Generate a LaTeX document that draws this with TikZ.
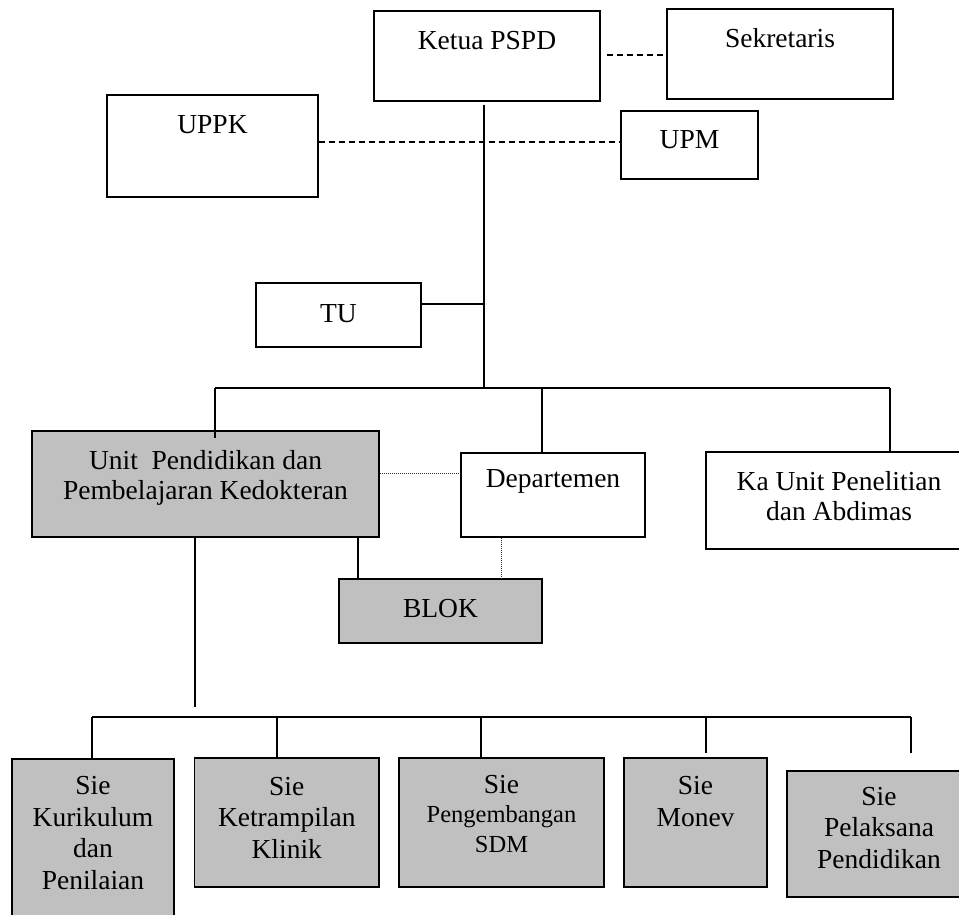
\documentclass[tikz,border=0pt]{standalone}
\usepackage{fontspec}
\setmainfont{Liberation Serif}
\begin{document}
\begin{tikzpicture}[x=1pt,y=-1pt,
  box/.style={draw=black,line width=1.2pt,inner sep=0pt,fill=white},
  gbox/.style={box,fill=boxgray},
  txt/.style={inner sep=0pt,anchor=base,align=center,font=\fontsize{27.5}{31.5}\selectfont},
  conn/.style={line width=1.2pt},
  dashc/.style={line width=1.1pt,dash pattern=on 6pt off 4pt},
  dotc/.style={line width=0.7pt,dash pattern=on 1pt off 1pt,draw=black!80}]
\definecolor{boxgray}{HTML}{C0C0C0}
\useasboundingbox (0,0) rectangle (959,914);
\clip (0,0) rectangle (959,914);
% boxes
\node[box,minimum width=226pt,minimum height=90pt] (ketua) at (487,56) {};
\node[box,minimum width=226pt,minimum height=90pt] (sek) at (780,54) {};
\node[box,minimum width=211pt,minimum height=102pt] (uppk) at (212.5,146) {};
\node[box,minimum width=137pt,minimum height=68pt] (upm) at (689.5,145) {};
\node[box,minimum width=165pt,minimum height=64pt] (tu) at (338.5,315) {};
\node[gbox,minimum width=347pt,minimum height=106pt] (unit) at (205.5,484) {};
\node[box,minimum width=184pt,minimum height=84pt] (dep) at (553,495) {};
\node[box,minimum width=266pt,minimum height=97pt] (ka) at (839,500.5) {};
\node[gbox,minimum width=203pt,minimum height=64pt] (blok) at (440.5,611) {};
\node[gbox,minimum width=162pt,minimum height=170pt] (kur) at (93,844) {};
\node[gbox,minimum width=184.5pt,minimum height=129pt] (ket) at (286.75,822.5) {};
\node[gbox,minimum width=205pt,minimum height=129pt] (peng) at (501.5,822.5) {};
\node[gbox,minimum width=143pt,minimum height=129pt] (monev) at (695.5,822.5) {};
\node[gbox,minimum width=184pt,minimum height=126pt] (pel) at (879,834) {};
% texts (anchor=base is the baseline of the last line)
\node[txt] (ketuaT) at (487,49) {Ketua PSPD};
\node[txt] (sekT) at (780,47) {Sekretaris};
\node[txt] (uppkT) at (212.5,133) {UPPK};
\node[txt] (upmT) at (689.5,148) {UPM};
\node[txt] (tuT) at (338.5,322) {TU};
\node[txt] (unitT) at (205.5,499) {Unit \ Pendidikan dan\\[-2pt]Pembelajaran Kedokteran};
\node[txt] (depT) at (553,487) {Departemen};
\node[txt] (kaT) at (839,520) {Ka Unit Penelitian\\[-2pt]dan Abdimas};
\node[txt] (blokT) at (440.5,617) {BLOK};
\node[txt] (kurT) at (93,889) {Sie\\Kurikulum\\dan\\Penilaian};
\node[txt] (ketT) at (286.75,858) {Sie\\Ketrampilan\\Klinik};
\node[txt] (pengT) at (501.5,852) {Sie\\[-2pt]\fontsize{24.5}{29}\selectfont Pengembangan\\[-2pt]\fontsize{24.5}{29}\selectfont SDM};
\node[txt] (monevT) at (695.5,826) {Sie\\Monev};
\node[txt] (pelT) at (879,868) {Sie\\Pelaksana\\Pendidikan};
% coordinates
\coordinate (busA) at (484,388);
\coordinate (tuJ) at (484,304);
\coordinate (busL) at (215,388);
\coordinate (busD) at (542,388);
\coordinate (busR) at (890,388);
\coordinate (lineD1) at (0,55);
\coordinate (lineD2) at (0,142);
\coordinate (dotY) at (0,473);
\coordinate (blokL) at (358,0);
\coordinate (blokR) at (501,0);
\coordinate (sieTop) at (195,707);
\coordinate (b2a) at (92,717);
\coordinate (b2b) at (277,717);
\coordinate (b2c) at (481,717);
\coordinate (b2d) at (706,717);
\coordinate (b2e) at (911,717);
\coordinate (endD) at (706,753);
\coordinate (endE) at (911,753);
% connectors
\draw[conn] ([yshift=-3pt]ketua.south -| busA) -- (busA);
\draw[dashc] ([xshift=6pt]ketua.east |- lineD1) -- (sek.west |- lineD1);
\draw[dashc] (uppk.east |- lineD2) -- (upm.west |- lineD2);
\draw[conn] (tu.east |- tuJ) -- (tuJ);
\draw[conn] (busL) -- (busR);
\draw[conn] (busL) -- ([yshift=-8pt]unit.north -| busL);
\draw[conn] (busD) -- (dep.north -| busD);
\draw[conn] (busR) -- (ka.north -| busR);
\draw[dotc] (unit.east |- dotY) -- (dep.west |- dotY);
\draw[conn] (unit.south -| blokL) -- (blok.north -| blokL);
\draw[dotc] (dep.south -| blokR) -- (blok.north -| blokR);
\draw[conn] (unit.south -| sieTop) -- (sieTop);
\draw[conn] (b2a) -- (b2e);
\draw[conn] (b2a) -- (kur.north -| b2a);
\draw[conn] (b2b) -- (ket.north -| b2b);
\draw[conn] (b2c) -- (peng.north -| b2c);
\draw[conn] (b2d) -- (endD);
\draw[conn] (b2e) -- (endE);
\end{tikzpicture}
\end{document}
